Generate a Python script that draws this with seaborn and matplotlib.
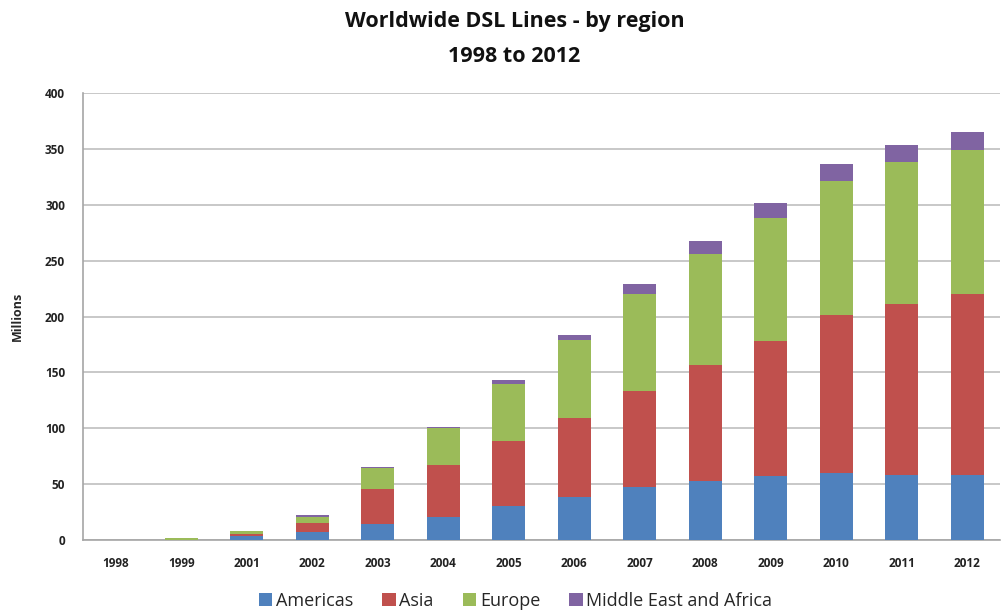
import matplotlib
matplotlib.use("Agg")
import matplotlib.pyplot as plt
import seaborn as sns
import numpy as np
import pandas as pd
from matplotlib.patches import Patch

years = ["1998", "1999", "2001", "2002", "2003", "2004", "2005", "2006",
         "2007", "2008", "2009", "2010", "2011", "2012"]
americas = [0, 0.2, 3.5, 7.5, 14.5, 20.5, 30, 38.5, 47, 53, 57, 60, 58, 58]
asia = [0, 0.1, 1.5, 7.5, 31, 46.5, 58.5, 70.5, 86, 104, 121, 141, 153, 162]
europe = [0, 1.2, 3, 6, 18.5, 33, 51, 70, 87, 99, 110, 120, 127, 129]
mea = [0, 0, 0.5, 1, 1, 1.5, 3.5, 4.5, 9, 11.5, 13.5, 15.5, 15.5, 16.5]
series_names = ["Americas", "Asia", "Europe", "Middle East and Africa"]
colors = ["#4F81BD", "#C0504D", "#9BBB59", "#8064A2"]

df = pd.DataFrame({"year": years, "Americas": americas, "Asia": asia,
                   "Europe": europe, "Middle East and Africa": mea})
cum = df[series_names].cumsum(axis=1)

sns.set_style("white")
plt.rcParams['font.family'] = ['Open Sans', 'DejaVu Sans']

fig = plt.figure(figsize=(10.05, 6.11), dpi=100)
ax = fig.add_axes([83/1005, 1-540/611, 917/1005, 447/611])

for name, col in reversed(list(zip(series_names, colors))):
    sns.barplot(x=df["year"], y=cum[name], color=col, width=0.5,
                saturation=1, ax=ax, zorder=3, linewidth=0)

ax.set_ylim(0, 400)
ax.set_xlim(-0.5, len(years) - 0.5)
ax.set_yticks(np.arange(0, 401, 50))
ax.yaxis.grid(True, color="#BFBFBF", linewidth=1.2, zorder=0)
ax.set_axisbelow(True)
for s in ["top", "right"]:
    ax.spines[s].set_visible(False)
for s in ["left", "bottom"]:
    ax.spines[s].set_color("#A6A6A6")
    ax.spines[s].set_linewidth(1.2)

ax.set_xticks(np.arange(len(years)))
ax.set_xticklabels(years, fontsize=8.5, fontweight="bold", color="#222222")
ax.set_xticks(np.arange(-0.5, len(years), 1), minor=True)
ax.tick_params(axis="x", which="major", length=0, pad=12)
ax.tick_params(axis="x", which="minor", length=5, color="#A6A6A6", width=1.2)
ax.tick_params(axis="y", length=5, color="#A6A6A6", width=1.2, pad=8,
               labelsize=8.5, labelcolor="#222222")
for lbl in ax.get_yticklabels():
    lbl.set_fontweight("bold")

ax.set_xlabel("")
ax.set_ylabel("Millions", fontsize=9, fontweight="bold")
ax.yaxis.set_label_coords(-0.064, 0.5)

fig.text(0.512, 1-22/611, "Worldwide DSL Lines - by region", ha="center",
         va="center", fontsize=15.5, fontweight="bold", color="#111111")
fig.text(0.512, 1-56/611, "1998 to 2012", ha="center",
         va="center", fontsize=15.5, fontweight="bold", color="#111111")

handles = [Patch(facecolor=c, edgecolor="none") for c in colors]
fig.legend(handles, series_names, loc="center", bbox_to_anchor=(0.513, 1-601/611),
           ncol=4, frameon=False, fontsize=13, handlelength=0.75, handleheight=0.75,
           handletextpad=0.2, columnspacing=1.6)

fig.savefig("out.png", dpi=100)
